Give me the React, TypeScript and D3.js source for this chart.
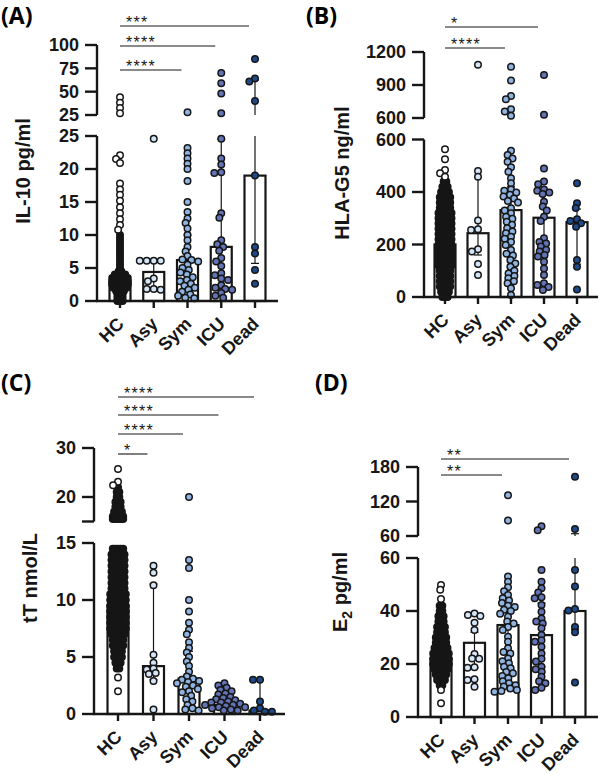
import React from "react";
import * as d3 from "d3";

type Bin = [number, number];

const categories = ["HC", "Asy", "Sym", "ICU", "Dead"];
const groupFills = ["#ffffff", "#d4e5f7", "#8fb4e2", "#6273b6", "#1d4a8c"];

// ---------- (A) IL-10 pg/ml ----------
const il10HcOutliers = [44, 38, 32.5, 27, 22.1, 21.5, 20.9, 17.8, 16.9, 16.1, 15.2, 14.2, 13.3, 12.4, 11.5, 10.8];
const il10HcDense: Bin[] = [[10, 1], [9.5, 1], [9, 1], [8.5, 1], [8, 1], [7.5, 1], [7, 1], [6.5, 1], [6, 1], [5.5, 1], [5, 1], [4.5, 2], [4, 5], [3.5, 7], [3, 7], [2.5, 7], [2, 6], [1.5, 4], [1, 3], [0.5, 3], [0, 3]];
const il10Asy = [24.6, 6.1, 6.1, 6.1, 6.1, 3.4, 3.0, 1.8, 1.8, 1.7];
const il10Sym = [28, 23.2, 22.4, 21.6, 20.8, 20.0, 18.2, 15.0, 13.5, 12.5, 11.8, 11.0, 10.0, 9.2, 8.2, 7.5, 6.8, 6.3, 6.2, 6.0, 5.5, 5.0, 4.7, 4.3, 4.0, 3.6, 3.2, 3.0, 2.6, 2.3, 2.0, 1.7, 1.4, 1.0, 0.8, 0.5, 0.4];
const il10Icu = [70, 59, 48, 27, 24.6, 21.6, 20.7, 19.5, 19.4, 13.3, 12.6, 9.2, 8.6, 8.2, 7.6, 6.5, 6.0, 5.3, 4.2, 3.9, 3.4, 3.2, 2.4, 2.0, 1.8, 1.7, 1.2, 0.8, 0.5];
const il10Dead = [85, 64, 61, 40, 19, 8.2, 7.2, 4.7, 2.6];
const il10Bars = [3.0, 4.4, 6.2, 8.2, 19];
const il10ErrLo = [1.5, 1.7, 2.5, 1.8, 5.7];
const il10ErrHi = [5.0, 6.1, 10.0, 24.5, 62.5];
const il10Sig: [string, string][] = [["Dead", "***"], ["ICU", "****"], ["Sym", "****"]];

// ---------- (B) HLA-G5 ng/ml ----------
const hlaHcOutliers = [563, 525, 484, 471, 458];
const hlaHcDense: Bin[] = [[440, 2], [420, 3], [400, 4], [380, 5], [360, 5], [340, 5], [320, 6], [300, 6], [280, 6], [260, 6], [240, 6], [220, 6], [200, 6], [180, 6], [160, 6], [140, 6], [120, 6], [100, 5], [80, 5], [60, 5], [40, 5], [20, 4], [0, 3]];
const hlaAsy = [1085, 480, 458, 291, 258, 255, 182, 173, 126, 84];
const hlaSym = [1065, 940, 800, 770, 680, 660, 620, 557, 541, 528, 515, 494, 477, 452, 433, 410, 405, 398, 390, 383, 375, 366, 360, 338, 330, 319, 306, 298, 287, 275, 262, 250, 243, 230, 222, 210, 198, 179, 165, 158, 141, 128, 115, 100, 90, 80, 71, 60, 52, 33, 8];
const hlaIcu = [990, 630, 490, 440, 430, 410, 405, 398, 392, 363, 345, 330, 306, 290, 224, 210, 204, 192, 180, 173, 160, 154, 134, 109, 84, 52, 46, 38, 27];
const hlaDead = [433, 357, 339, 296, 290, 281, 268, 141, 115, 29];
const hlaBars = [200, 243, 331, 302, 285];
const hlaErrLo = [120, 160, 150, 150, 125];
const hlaErrHi = [290, 458, 420, 400, 335];
const hlaSig: [string, string][] = [["ICU", "*"], ["Sym", "****"]];

// ---------- (C) tT nmol/L ----------
const ttHcOutliers = [25.7, 23.1, 22.4, 3.2, 2.0];
const ttHcDense: Bin[] = [[22, 1], [21, 2], [20, 2], [19, 3], [18, 3], [17, 4], [16, 5], [15.5, 5], [14.5, 5], [14, 6], [13.5, 6], [13, 6], [12.5, 6], [12, 6], [11.5, 6], [11, 6], [10.5, 7], [10, 7], [9.5, 7], [9, 7], [8.5, 7], [8, 7], [7.5, 7], [7, 6], [6.5, 5], [6, 5], [5.5, 4], [5, 4], [4.5, 3], [4, 2]];
const ttAsy = [13.0, 12.4, 11.3, 5.2, 4.5, 4.0, 3.9, 3.6, 3.5, 2.9, 0.4];
const ttSym = [20, 13.5, 12.8, 10.0, 9.0, 8.0, 7.4, 7.0, 6.3, 5.8, 5.4, 5.0, 4.6, 4.2, 3.7, 3.3, 3.1, 3.0, 2.9, 2.8, 2.7, 2.5, 2.4, 2.2, 2.0, 1.9, 1.6, 1.3, 1.1, 0.8, 0.5, 0.4, 0.3];
const ttIcu = [2.7, 2.5, 2.3, 2.1, 2.0, 1.8, 1.7, 1.5, 1.4, 1.3, 1.2, 1.1, 1.0, 1.0, 0.9, 0.8, 0.8, 0.7, 0.6, 0.6, 0.5, 0.4, 0.3, 0.3];
const ttDead = [3.0, 3.0, 1.1, 0.5, 0.3, 0.2, 0.2];
const ttBars = [9.5, 4.2, 3.1, 0.8, 0.3];
const ttErrLo = [7.5, 3.0, 2.0, 0.5, 0.2];
const ttErrHi = [11.5, 11.4, 5.5, 1.5, 3.0];
const ttSig: [string, string][] = [["Dead", "****"], ["ICU", "****"], ["Sym", "****"], ["Asy", "*"]];

// ---------- (D) E2 pg/ml ----------
const e2HcOutliers = [49.8, 48, 44.5, 10.2, 5.2];
const e2HcDense: Bin[] = [[42, 2], [40, 2], [38, 3], [36, 3], [34, 4], [32, 4], [30, 5], [28, 5], [26, 6], [24, 7], [22, 7], [20, 7], [18, 6], [16, 5], [14, 4], [12, 2]];
const e2Asy = [39.1, 38.5, 38.1, 35.6, 32.8, 23.8, 22.1, 22.0, 18.8, 18.6, 14.2, 14.0, 11.4];
const e2Sym = [131, 87, 53, 51, 49, 47.5, 46, 44.8, 44, 43, 42, 41.5, 40.5, 40, 39, 37.8, 36, 35.3, 34, 32.8, 30.3, 28.4, 25.9, 24.5, 24, 22.1, 21, 20.3, 19, 18.4, 17, 16.5, 15.5, 14.6, 13.5, 12.7, 12, 11.5, 10.8, 10.2, 9.8, 9.5];
const e2Icu = [77, 70, 55.5, 51, 48.6, 47, 45.2, 44.8, 42.3, 39.7, 37.2, 36, 35.3, 33.5, 30.9, 29, 28.4, 26.5, 24, 22, 20.9, 19, 18, 17.1, 15.2, 13.5, 12.7, 11, 10.2];
const e2Dead = [163, 72, 55.5, 49.2, 40.8, 40.2, 34, 32, 13];
const e2Bars = [22, 28, 34.7, 30.9, 40];
const e2ErrLo = [18, 18.5, 17, 19, 33];
const e2ErrHi = [27, 32, 44, 43, 64];
const e2Sig: [string, string][] = [["Dead", "**"], ["Sym", "**"]];

const SANS = "'Liberation Sans', Arial, Helvetica, sans-serif";
const LETTER_FONT = "'Open Sans', 'Liberation Sans', sans-serif";

interface PanelLayout {
  letter: string; letterX: number; letterY: number;
  axisX: number; xRange: [number, number]; baseEnd: number;
  lowerDomain: [number, number]; lowerRange: [number, number];
  upperDomain: [number, number]; upperRange: [number, number];
  lowerTicks: number[]; upperTicks: number[]; upperLabelled: number[];
  titleX: number; titleY: number;
  sigY: number[];
}

interface PanelData {
  title: React.ReactNode;
  hcOutliers: number[];
  hcDense: Bin[];
  groups: number[][];
  bars: number[]; errLo: number[]; errHi: number[];
  sig: [string, string][];
}

function swarm(ys: number[], dx: number, dy: number): number[] {
  const order = ys.map((_, i) => i).sort((a, b) => ys[a] - ys[b]);
  const placed: { x: number; y: number }[] = [];
  const out = new Array(ys.length).fill(0);
  for (const i of order) {
    const y = ys[i];
    const near = placed.filter((p) => Math.abs(p.y - y) < dy);
    const cands = [0];
    near.forEach((p) => {
      const w = dx * Math.sqrt(Math.max(0, 1 - ((p.y - y) / dy) ** 2));
      cands.push(p.x + w, p.x - w);
    });
    cands.sort((a, b) => Math.abs(a) - Math.abs(b) || a - b);
    let best = 0;
    for (const c of cands) {
      if (near.every((p) => ((p.x - c) / dx) ** 2 + ((p.y - y) / dy) ** 2 >= 0.999)) { best = c; break; }
    }
    out[i] = best;
    placed.push({ x: best, y });
  }
  return out;
}

const R = 3.25;
const SW = 1.5;
const BAR_W = 21;
const INK = "#161616";

function Panel({ L, D }: { L: PanelLayout; D: PanelData }) {
  const x = d3.scalePoint<string>().domain(categories).range(L.xRange);
  const yLo = d3.scaleLinear().domain(L.lowerDomain).range(L.lowerRange);
  const yHi = d3.scaleLinear().domain(L.upperDomain).range(L.upperRange);
  const y = (v: number) => (v <= L.lowerDomain[1] ? yLo(v) : yHi(v));
  const base = yLo(0);
  const lowMax = L.lowerDomain[1];

  const allGroups = [D.hcOutliers, ...D.groups];
  const points: { cx: number; cy: number; fill: string }[] = [];
  allGroups.forEach((vals, gi) => {
    const ys = vals.map(y);
    const offs = swarm(ys, 7, 4.8);
    const cx0 = x(categories[gi]) as number;
    ys.forEach((cy, i) => points.push({ cx: cx0 + offs[i], cy, fill: groupFills[gi] }));
  });
  const hcX = x("HC") as number;
  const dense: { cx: number; cy: number }[] = [];
  D.hcDense.forEach(([v, n]) => {
    for (let k = 0; k < n; k++) dense.push({ cx: hcX + (k - (n - 1) / 2) * 2.6, cy: y(v) });
  });

  return (
    <g>
      <text x={L.letterX} y={L.letterY} fontFamily={LETTER_FONT} fontWeight={700} fontSize={23}>{L.letter}</text>
      {D.bars.map((v, i) => {
        const cx = x(categories[i]) as number;
        return <rect key={"b" + i} x={cx - BAR_W / 2} y={yLo(v)} width={BAR_W} height={base - yLo(v)} fill="#fff" stroke={INK} strokeWidth={2.2} />;
      })}
      {D.bars.map((_, i) => {
        const cx = x(categories[i]) as number;
        const lo = D.errLo[i], hi = D.errHi[i];
        const segs: JSX.Element[] = [];
        if (hi <= lowMax) {
          segs.push(<line key="a" x1={cx} x2={cx} y1={yLo(lo)} y2={yLo(hi)} />);
        } else {
          segs.push(<line key="a" x1={cx} x2={cx} y1={yLo(lo)} y2={yLo(lowMax)} />);
          segs.push(<line key="b" x1={cx} x2={cx} y1={yHi(L.upperDomain[0])} y2={yHi(hi)} />);
        }
        segs.push(<line key="c" x1={cx - 4} x2={cx + 4} y1={yLo(lo)} y2={yLo(lo)} />);
        segs.push(<line key="d" x1={cx - 4} x2={cx + 4} y1={y(hi)} y2={y(hi)} />);
        return <g key={"e" + i} stroke={INK} strokeWidth={1.2}>{segs}</g>;
      })}
      {dense.map((p, i) => <circle key={"d" + i} cx={p.cx} cy={p.cy} r={R} fill={INK} stroke={INK} strokeWidth={SW} />)}
      {points.map((p, i) => <circle key={"p" + i} cx={p.cx} cy={p.cy} r={R} fill={p.fill} stroke={INK} strokeWidth={SW} />)}
      <g stroke={INK} strokeWidth={2.4}>
        <line x1={L.axisX} x2={L.axisX} y1={yHi(L.upperDomain[0])} y2={yHi(L.upperDomain[1])} />
        {L.upperTicks.map((t) => <line key={"ut" + t} x1={L.axisX - 12} x2={L.axisX} y1={yHi(t)} y2={yHi(t)} />)}
        <line x1={L.axisX} x2={L.axisX} y1={base + 1} y2={yLo(lowMax)} />
        {L.lowerTicks.map((t) => <line key={"lt" + t} x1={L.axisX - 12} x2={L.axisX} y1={yLo(t)} y2={yLo(t)} />)}
        <line x1={L.axisX - 1} x2={L.baseEnd} y1={base} y2={base} />
        {categories.map((c) => <line key={"xt" + c} x1={x(c) as number} x2={x(c) as number} y1={base} y2={base + 7} />)}
      </g>
      <g fontFamily={SANS} fontWeight={700} fontSize={18} textAnchor="end" fill={INK}>
        {L.upperLabelled.map((t) => <text key={"ul" + t} x={L.axisX - 18} y={yHi(t)} dy="0.36em">{t}</text>)}
        {L.lowerTicks.map((t) => <text key={"ll" + t} x={L.axisX - 18} y={yLo(t)} dy="0.36em">{t}</text>)}
        {categories.map((c) => (
          <text key={"xl" + c} transform={`translate(${(x(c) as number) + 5},${base + 24}) rotate(-45)`}>{c}</text>
        ))}
      </g>
      <text transform={`translate(${L.titleX},${L.titleY}) rotate(-90)`} textAnchor="middle" fontFamily={SANS} fontWeight={700} fontSize={20} fill={INK}>{D.title}</text>
      {D.sig.map(([to, lab], i) => {
        const x1 = hcX;
        const x2 = (x(to) as number) - 6;
        const yy = L.sigY[i];
        return (
          <g key={"s" + i}>
            <line x1={x1} x2={x2} y1={yy} y2={yy} stroke={INK} strokeWidth={1.1} />
            <text x={x1 + 6} y={yy + 1.5} fontFamily={SANS} fontSize={16} letterSpacing={1.3} fill={INK}>{lab}</text>
          </g>
        );
      })}
    </g>
  );
}

const layoutA: PanelLayout = {
  letter: "(A)", letterX: 1, letterY: 24, axisX: 97, xRange: [120, 255], baseEnd: 278,
  lowerDomain: [0, 25], lowerRange: [301, 136], upperDomain: [25, 100], upperRange: [115, 45],
  lowerTicks: [0, 5, 10, 15, 20, 25], upperTicks: [25, 50, 75, 100], upperLabelled: [25, 50, 75, 100],
  titleX: 30, titleY: 171, sigY: [26, 46, 70],
};
const layoutB: PanelLayout = {
  letter: "(B)", letterX: 306, letterY: 24, axisX: 424, xRange: [445, 577], baseEnd: 598,
  lowerDomain: [0, 600], lowerRange: [297, 139.5], upperDomain: [600, 1200], upperRange: [118, 52],
  lowerTicks: [0, 200, 400, 600], upperTicks: [600, 900, 1200], upperLabelled: [600, 900, 1200],
  titleX: 349, titleY: 173, sigY: [27, 48],
};
const layoutC: PanelLayout = {
  letter: "(C)", letterX: 1, letterY: 391, axisX: 94, xRange: [118, 260], baseEnd: 285,
  lowerDomain: [0, 15], lowerRange: [714, 543], upperDomain: [15, 30], upperRange: [521.5, 448],
  lowerTicks: [0, 5, 10, 15], upperTicks: [15, 20, 30], upperLabelled: [20, 30],
  titleX: 37, titleY: 578, sigY: [397, 415, 434, 454],
};
const layoutD: PanelLayout = {
  letter: "(D)", letterX: 315, letterY: 391, axisX: 418, xRange: [441, 575], baseEnd: 598,
  lowerDomain: [0, 60], lowerRange: [717, 558], upperDomain: [60, 180], upperRange: [536, 467],
  lowerTicks: [0, 20, 40, 60], upperTicks: [60, 120, 180], upperLabelled: [60, 120, 180],
  titleX: 347, titleY: 592, sigY: [459, 475],
};

export default function App() {
  const dataA: PanelData = {
    title: "IL-10 pg/ml", hcOutliers: il10HcOutliers, hcDense: il10HcDense,
    groups: [il10Asy, il10Sym, il10Icu, il10Dead], bars: il10Bars, errLo: il10ErrLo, errHi: il10ErrHi, sig: il10Sig,
  };
  const dataB: PanelData = {
    title: "HLA-G5 ng/ml", hcOutliers: hlaHcOutliers, hcDense: hlaHcDense,
    groups: [hlaAsy, hlaSym, hlaIcu, hlaDead], bars: hlaBars, errLo: hlaErrLo, errHi: hlaErrHi, sig: hlaSig,
  };
  const dataC: PanelData = {
    title: "tT nmol/L", hcOutliers: ttHcOutliers, hcDense: ttHcDense,
    groups: [ttAsy, ttSym, ttIcu, ttDead], bars: ttBars, errLo: ttErrLo, errHi: ttErrHi, sig: ttSig,
  };
  const dataD: PanelData = {
    title: (<>E<tspan fontSize={14} dy={5}>2</tspan><tspan dy={-5}> pg/ml</tspan></>),
    hcOutliers: e2HcOutliers, hcDense: e2HcDense,
    groups: [e2Asy, e2Sym, e2Icu, e2Dead], bars: e2Bars, errLo: e2ErrLo, errHi: e2ErrHi, sig: e2Sig,
  };
  return (
    <svg width={600} height={784} viewBox="0 0 600 784" style={{ position: "absolute", left: 0, top: 0, background: "#fff" }}>
      <rect width={600} height={784} fill="#fff" />
      <Panel L={layoutA} D={dataA} />
      <Panel L={layoutB} D={dataB} />
      <Panel L={layoutC} D={dataC} />
      <Panel L={layoutD} D={dataD} />
    </svg>
  );
}
